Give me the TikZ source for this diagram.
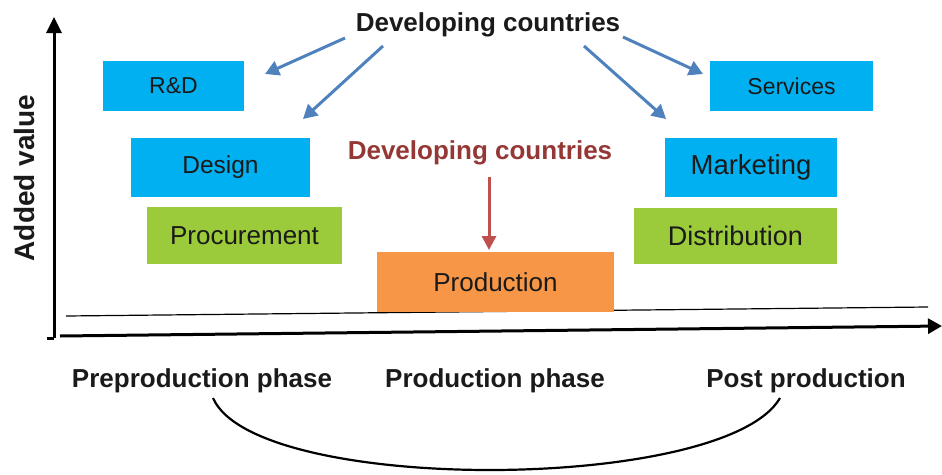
\documentclass[tikz,border=0pt]{standalone}
\usepackage{fontspec}
\setmainfont{Liberation Sans}
\usetikzlibrary{arrows.meta}
\definecolor{boxblue}{HTML}{00B0F0}
\definecolor{boxgreen}{HTML}{9BCB3B}
\definecolor{boxorange}{HTML}{F79646}
\definecolor{arrowblue}{HTML}{4F81BD}
\definecolor{arrowred}{HTML}{C0504D}
\definecolor{textred}{HTML}{953735}
\definecolor{textdark}{HTML}{1A1A1A}
\tikzset{
  stage/.style={rectangle, inner sep=0pt, text=textdark},
  phase/.style={font=\fontsize{26}{29}\selectfont\bfseries, text=textdark, inner sep=0pt},
  head/.style={font=\fontsize{26}{30}\selectfont\bfseries, inner sep=0pt},
  bluearrow/.style={draw=arrowblue, line width=3pt, -{Triangle[length=14pt,width=15pt]}},
  redarrow/.style={draw=arrowred, line width=3pt, -{Triangle[length=14pt,width=14pt]}},
}
\begin{document}
\begin{tikzpicture}[x=1pt, y=-1pt]
\useasboundingbox (0,0) rectangle (942,474);

% axes
\coordinate (ytop) at (54,17);
\coordinate (origin) at (54,338);
\coordinate (xstart) at (60,336);
\coordinate (xend) at (942,326);
\draw[line width=3pt, -{Triangle[length=16pt,width=15pt]}] (origin) -- (ytop);
\draw[line width=3pt] (origin) -- ++(-7,0);
\draw[line width=3pt, -{Triangle[length=14pt,width=15pt]}] (xstart) -- (xend);
\coordinate (ls) at (66,316);
\coordinate (le) at (928,307);
\draw[line width=1.2pt] (ls) -- (le);

\node[rotate=90, font=\fontsize{28}{31}\selectfont\bfseries, text=textdark] (yl) at (24,178) {Added value};

% value-chain stages
\node[stage, fill=boxblue, minimum width=141pt, minimum height=50pt, font=\fontsize{23}{26}\selectfont] (rd) at (173.5,86) {R\&D};
\node[stage, fill=boxblue, minimum width=179pt, minimum height=59pt, font=\fontsize{24.5}{28}\selectfont] (design) at (220.5,167.5) {Design};
\node[stage, fill=boxgreen, minimum width=195pt, minimum height=57pt, font=\fontsize{26}{30}\selectfont] (proc) at (244.5,235.5) {Procurement};
\node[stage, fill=boxorange, minimum width=237pt, minimum height=60pt, font=\fontsize{26}{30}\selectfont] (prod) at (495.5,282) {Production};
\node[stage, fill=boxgreen, minimum width=203pt, minimum height=56pt, font=\fontsize{27}{30}\selectfont] (dist) at (735.5,236) {Distribution};
\node[stage, fill=boxblue, minimum width=172pt, minimum height=59pt, font=\fontsize{27.5}{30}\selectfont] (mkt) at (751,167.5) {Marketing};
\node[stage, fill=boxblue, minimum width=163pt, minimum height=50pt, font=\fontsize{23}{26}\selectfont] (serv) at (791.5,86) {Services};

% developing countries labels
\node[head, text=textdark] (dctop) at (488,25) {Developing countries};
\node[head, text=textred] (dcmid) at (480,153) {Developing countries};

% arrows from the labels to the stages
\coordinate (a1s) at (345,38);  \coordinate (a1e) at (265,74);
\coordinate (a2s) at (383,46);  \coordinate (a2e) at (303,119);
\coordinate (a3s) at (623,37);  \coordinate (a3e) at (703,74);
\coordinate (a4s) at (584,46);  \coordinate (a4e) at (666,119);
\draw[bluearrow] (a1s) -- (a1e);
\draw[bluearrow] (a2s) -- (a2e);
\draw[bluearrow] (a3s) -- (a3e);
\draw[bluearrow] (a4s) -- (a4e);
\coordinate (rs) at (489,177);
\coordinate (re) at (489,250);
\draw[redarrow] (rs) -- (re);

% phases
\node[phase] (pre) at (202,381) {Preproduction phase};
\node[phase] (mid) at (495,381) {Production phase};
\node[phase] (post) at (806,381) {Post production};
\coordinate (arcL) at (213,398);
\coordinate (arcR) at (780,398);
\draw[line width=2.2pt] (arcL) .. controls (255,495) and (725,493) .. (arcR);
\end{tikzpicture}
\end{document}
